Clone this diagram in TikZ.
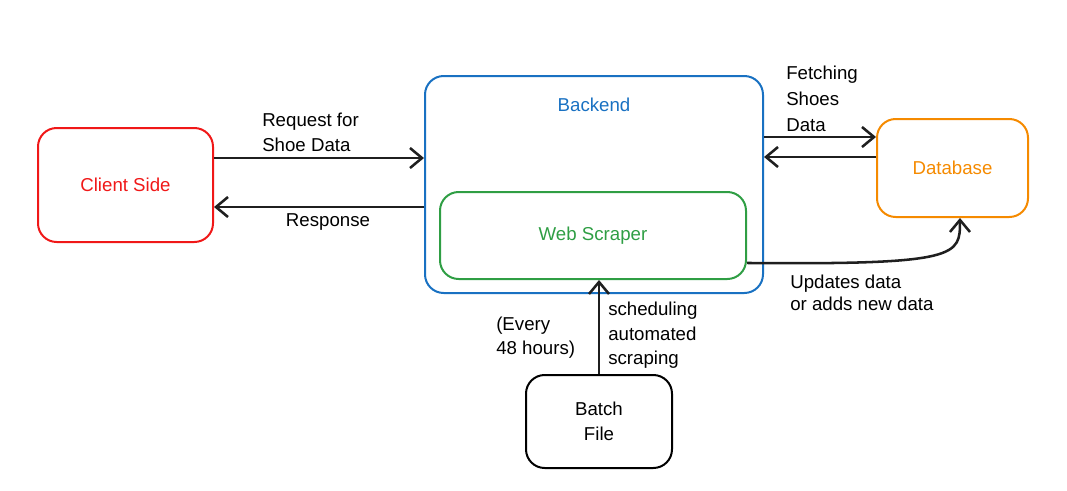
\documentclass[tikz,border=0pt]{standalone}
\usepackage{fontspec}
\setmainfont{Liberation Sans}
\usetikzlibrary{arrows.meta}

\definecolor{exred}{HTML}{F01818}
\definecolor{exblue}{HTML}{1971C2}
\definecolor{exgreen}{HTML}{2F9E44}
\definecolor{exorange}{HTML}{F58A00}

\tikzset{
    box/.style={draw, line width=1.5pt, rounded corners=14pt, inner sep=0pt},
    lbl/.style={inner sep=0pt, align=left, font=\fontsize{14}{19}\selectfont},
    arr/.style={line width=1.9pt, draw=black!88, -{Straight Barb[length=9pt,width=15pt,line width=1.9pt]}}
}

\begin{document}
\begin{tikzpicture}[x=0.75pt, y=-0.75pt]
        \useasboundingbox (0, 0) rectangle (1067, 490);

        \node[box, draw=exred, minimum width=131.25pt, minimum height=85.5pt] (client) at (125.5, 185) {};
        \node[box, draw=exblue, minimum width=253.5pt, minimum height=162.75pt] (backend) at (594, 184.5) {};
        \node[box, draw=exgreen, minimum width=229.5pt, minimum height=65.25pt] (scraper) at (593, 235.5) {};
        \node[box, draw=exorange, minimum width=113.25pt, minimum height=73.5pt] (db) at (952.5, 168) {};
        \node[box, draw=black, minimum width=109.5pt, minimum height=69.75pt] (batch) at (599, 421.5) {};

        \node[lbl, text=exred] (clienttxt) at (client) {Client Side};
        \node[lbl, text=exblue] (backendtxt) at (594, 105) {Backend};
        \node[lbl, text=exgreen] (scrapertxt) at (scraper) {Web Scraper};
        \node[lbl, text=exorange] (dbtxt) at (db) {Database};
        \node[lbl, align=center] (batchtxt) at (batch) {Batch\\File};

        \draw[arr] ([yshift=20.25pt]client.east) -- ([yshift=20.25pt]client.east -| backend.west);
        \draw[arr] ([yshift=-16.5pt]client.east -| backend.west) -- ([yshift=-16.5pt]client.east);
        \draw[arr] ([yshift=23.25pt]db.west -| backend.east) -- ([yshift=23.25pt]db.west);
        \draw[arr] ([yshift=8.25pt]db.west) -- ([yshift=8.25pt]db.west -| backend.east);
        \draw[arr] ([yshift=-20.6pt]scraper.east) .. controls +(160pt, -1.5pt) and +(0, -28pt) .. ([xshift=5.6pt]db.south);
        \draw[arr] (batch.north) -- (batch.north |- scraper.south);

        \node[lbl, anchor=west] (reqtxt) at (262, 132.5) {Request for\\Shoe Data};
        \node[lbl] (resptxt) at (328, 222) {Response};
        \node[lbl, anchor=west, font=\fontsize{14}{19.5}\selectfont] (fetchtxt) at (786, 99) {Fetching\\Shoes\\Data};
        \node[lbl, anchor=west, font=\fontsize{14}{16.5}\selectfont] (updtxt) at (790, 293) {Updates data\\or adds new data};
        \node[lbl, anchor=west, font=\fontsize{14}{18.4}\selectfont] (schedtxt) at (608, 335.5) {scheduling\\automated\\scraping};
        \node[lbl, anchor=west, font=\fontsize{14}{18}\selectfont] (everytxt) at (496, 338) {(Every\\48 hours)};

    \end{tikzpicture}
\end{document}
